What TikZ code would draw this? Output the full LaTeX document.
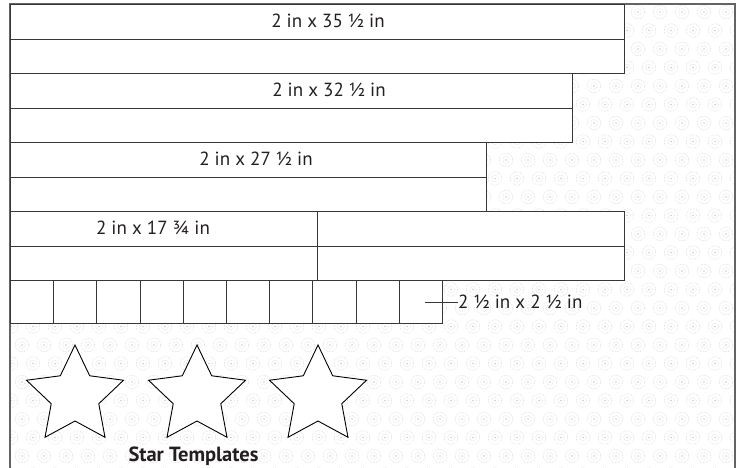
\documentclass[tikz,border=0pt]{standalone}
\usepackage{fontspec}
\setmainfont{PT Sans}
\definecolor{linec}{RGB}{55,55,55}
\definecolor{framec}{RGB}{100,100,100}
\definecolor{textc}{RGB}{35,31,32}
\definecolor{patc}{RGB}{205,205,205}
\begin{document}
\begin{tikzpicture}[x=1pt,y=-1pt,
  strip/.style={draw=linec, fill=white, line width=1pt, rectangle, inner sep=0pt, anchor=north west},
  lbl/.style={inner sep=0pt, font=\fontsize{19}{22}\selectfont, text=textc},
  motif/.style={draw=patc, line width=0.7pt, dash pattern=on 0.01pt off 1.6pt, line cap=round},
  starline/.style={draw=black, fill=white, line width=0.9pt, line join=miter}]
\useasboundingbox (0,0) rectangle (741,468);
\fill[white] (0,0) rectangle (741,468);
% background pattern
\begin{scope}
\clip (10,4) rectangle (735,468);
\foreach \r in {0,...,25} {
  \pgfmathsetmacro\yy{12+\r*18.5}
  \pgfmathsetmacro\off{mod(\r,2)*11}
  \foreach \c in {0,...,34} {
    \pgfmathsetmacro\xx{\c*22+\off}
    \draw[motif] (\xx,\yy) circle (6.8);
    \draw[motif] (\xx,\yy) circle (3.4);
    \fill[patc] (\xx,\yy) circle (0.9);
  }
}
\end{scope}
% frame
\draw[framec, line width=1.2pt] (10,468) -- (10,4) -- (735,4) -- (735,468);
% strips
\node[strip, minimum width=614pt, minimum height=35pt] (r1) at (10,4) {};
\node[strip, minimum width=614pt, minimum height=34pt] (r2) at (10,39) {};
\node[strip, minimum width=562pt, minimum height=35pt] (r3) at (10,73) {};
\node[strip, minimum width=562pt, minimum height=34pt] (r4) at (10,108) {};
\node[strip, minimum width=476pt, minimum height=35pt] (r5) at (10,142) {};
\node[strip, minimum width=476pt, minimum height=34pt] (r6) at (10,177) {};
\node[strip, minimum width=307pt, minimum height=35pt] (r7a) at (10,211) {};
\node[strip, minimum width=307pt, minimum height=35pt] (r7b) at (317,211) {};
\node[strip, minimum width=307pt, minimum height=34pt] (r8a) at (10,246) {};
\node[strip, minimum width=307pt, minimum height=34pt] (r8b) at (317,246) {};
\foreach \i in {0,...,9} {
  \node[strip, minimum width=43.2pt, minimum height=43pt] (sq\i) at ({10+43.2*\i},280) {};
}
% labels
\node[lbl] (l1) at (328,21) {2 in x 35 ½ in};
\node[lbl] (l2) at (329,90) {2 in x 32 ½ in};
\node[lbl] (l3) at (256,159) {2 in x 27 ½ in};
\node[lbl] (l4) at (153,228) {2 in x 17 ¾ in};
\coordinate (lead) at (425,302);
\node[lbl, anchor=west] (sql) at (458,302) {2 ½ in x 2 ½ in};
\draw[linec, line width=0.9pt] (lead) -- (sql.west);
% stars
\foreach \cx in {75,197,318} {
  \draw[starline] plot[samples at={0,...,9}] ({\cx+(38+13*cos(180*\x))*cos(-90+36*\x)}, {396+(38+13*cos(180*\x))*sin(-90+36*\x)}) -- cycle;
}
\node[lbl, font=\bfseries\fontsize{20.5}{24}\selectfont] (st) at (193.5,456) {Star Templates};
\end{tikzpicture}
\end{document}
